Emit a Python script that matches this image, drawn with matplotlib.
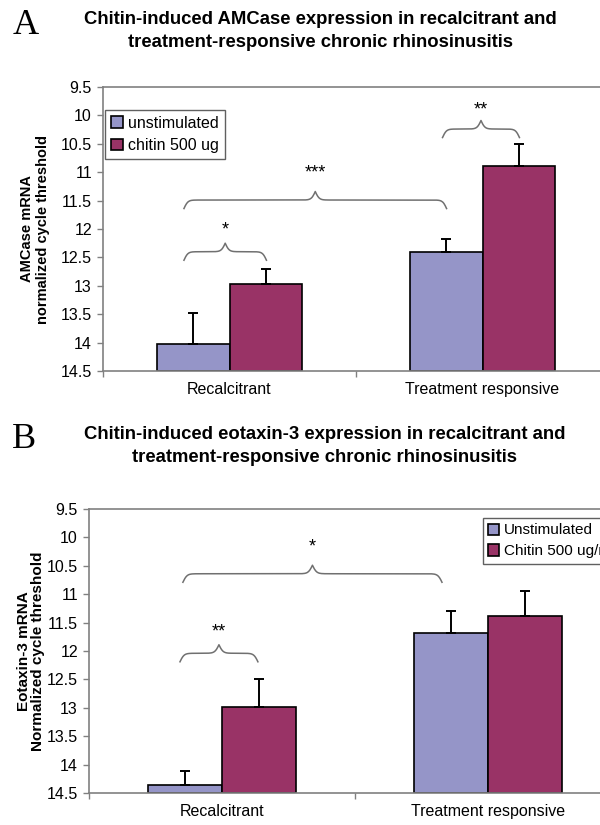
import numpy as np
import matplotlib
matplotlib.use("Agg")
import matplotlib.pyplot as plt

plt.rcParams['font.family'] = ['Liberation Sans', 'DejaVu Sans']

# data (normalized cycle threshold, lower = more expression)
groups = ['Recalcitrant', 'Treatment responsive']

amc_unstim = [14.02, 12.40]
amc_unstim_err = [0.54, 0.23]
amc_chitin = [12.96, 10.89]
amc_chitin_err = [0.26, 0.39]

eot_unstim = [14.36, 11.69]
eot_unstim_err = [0.25, 0.39]
eot_chitin = [12.98, 11.38]
eot_chitin_err = [0.48, 0.44]

yticks = np.arange(9.5, 14.51, 0.5)
base = 14.5

col_unstim = '#9595C8'
col_chitin = '#993366'
axis_grey = '#808080'
brace_grey = '#707070'


def brace(ax, x0, x1, y, d, beta=130):
    # curly brace opening downward (axis is inverted so smaller y is higher)
    n = 401
    x = np.linspace(x0, x1, n)
    xh = x[:n // 2 + 1]
    yh = 1 / (1 + np.exp(-beta * (xh - xh[0]))) + 1 / (1 + np.exp(-beta * (xh - xh[-1])))
    yy = np.concatenate((yh, yh[-2::-1]))
    ax.plot(x, y - (yy - 1) * d, color=brace_grey, lw=1.1, zorder=4)


def panel(ax, unstim, ue, chitin, ce, w):
    x = np.arange(len(groups))
    b1 = ax.bar(x - w / 2, np.array(unstim) - base, w, bottom=base, color=col_unstim,
                edgecolor='black', linewidth=1.2, zorder=2)
    b2 = ax.bar(x + w / 2, np.array(chitin) - base, w, bottom=base, color=col_chitin,
                edgecolor='black', linewidth=1.2, zorder=2)
    ax.errorbar(x - w / 2, unstim, yerr=[ue, np.zeros(len(ue))], fmt='none',
                ecolor='black', elinewidth=1.4, capsize=3.5, capthick=1.4, zorder=3)
    ax.errorbar(x + w / 2, chitin, yerr=[ce, np.zeros(len(ce))], fmt='none',
                ecolor='black', elinewidth=1.4, capsize=3.5, capthick=1.4, zorder=3)
    ax.set_xlim(-0.5, 1.5)
    ax.set_ylim(14.5, 9.5)
    ax.set_yticks(yticks)
    ax.set_yticklabels(['%g' % t for t in yticks], fontsize=11.5)
    ax.set_xticks(x)
    ax.set_xticklabels(groups, fontsize=11.5)
    ax.set_xticks([-0.5, 0.5, 1.5], minor=True)
    ax.tick_params(axis='x', which='major', length=0, pad=8)
    ax.tick_params(axis='x', which='minor', length=4, color=axis_grey, width=1)
    ax.tick_params(axis='y', length=4, color=axis_grey, width=1, pad=4)
    for s in ['left', 'top', 'bottom']:
        ax.spines[s].set_color(axis_grey)
        ax.spines[s].set_linewidth(1.2)
    ax.spines['right'].set_visible(False)
    return b1, b2


fig = plt.figure(figsize=(6, 8.25), dpi=100)

# panel A
axA = fig.add_axes([103 / 600, 454 / 825, 506 / 600, 284 / 825])
hA = panel(axA, amc_unstim, amc_unstim_err, amc_chitin, amc_chitin_err, 0.285)
brace(axA, -0.18, 0.146, 12.40, 0.30)
axA.text(-0.015, 12.02, '*', ha='center', va='center', fontsize=13)
brace(axA, -0.18, 0.858, 11.49, 0.30)
axA.text(0.34, 11.02, '***', ha='center', va='center', fontsize=13)
brace(axA, 0.842, 1.146, 10.24, 0.30)
axA.text(0.994, 9.90, '**', ha='center', va='center', fontsize=13)
legA = axA.legend(hA, ['unstimulated', 'chitin 500 ug'], loc='upper left',
                  bbox_to_anchor=(0.004, 0.918), fontsize=11.5, frameon=True,
                  fancybox=False, framealpha=1, edgecolor='#606060',
                  handlelength=0.75, handleheight=0.75, handletextpad=0.35,
                  borderpad=0.35, labelspacing=0.45, borderaxespad=0)
legA.get_frame().set_linewidth(1)
fig.text(35 / 600, 1 - 229 / 825, 'AMCase mRNA\nnormalized cycle threshold', rotation=90,
         ha='center', va='center', fontsize=10.5, fontweight='bold', linespacing=1.1)
fig.text(320 / 600, 1 - 31 / 825,
         'Chitin-induced AMCase expression in recalcitrant and\ntreatment-responsive chronic rhinosinusitis',
         ha='center', va='center', fontsize=13.3, fontweight='bold', linespacing=1.4)
fig.text(26 / 600, 1 - 26 / 825, 'A', ha='center', va='center', fontsize=26,
         family='Liberation Serif')

# panel B
axB = fig.add_axes([89 / 600, 32 / 825, 532 / 600, 284 / 825])
hB = panel(axB, eot_unstim, eot_unstim_err, eot_chitin, eot_chitin_err, 0.28)
brace(axB, -0.158, 0.135, 12.04, 0.30)
axB.text(-0.012, 11.67, '**', ha='center', va='center', fontsize=13)
brace(axB, -0.147, 0.827, 10.64, 0.30)
axB.text(0.34, 10.17, '*', ha='center', va='center', fontsize=13)
legB = axB.legend(hB, ['Unstimulated', 'Chitin 500 ug/ml'], loc='upper left',
                  bbox_to_anchor=(0.74, 0.968), fontsize=11, frameon=True,
                  fancybox=False, framealpha=1, edgecolor='#606060',
                  handlelength=0.75, handleheight=0.75, handletextpad=0.3,
                  borderpad=0.35, labelspacing=0.45, borderaxespad=0)
legB.get_frame().set_linewidth(1)
fig.text(31 / 600, 1 - 651 / 825, 'Eotaxin-3 mRNA\nNormalized cycle threshold', rotation=90,
         ha='center', va='center', fontsize=11, fontweight='bold', linespacing=1.0)
fig.text(325 / 600, 1 - 446 / 825,
         'Chitin-induced eotaxin-3 expression in recalcitrant and\ntreatment-responsive chronic rhinosinusitis',
         ha='center', va='center', fontsize=13.3, fontweight='bold', linespacing=1.4)
fig.text(24 / 600, 1 - 440 / 825, 'B', ha='center', va='center', fontsize=26,
         family='Liberation Serif')

fig.savefig('out.png', dpi=100)
